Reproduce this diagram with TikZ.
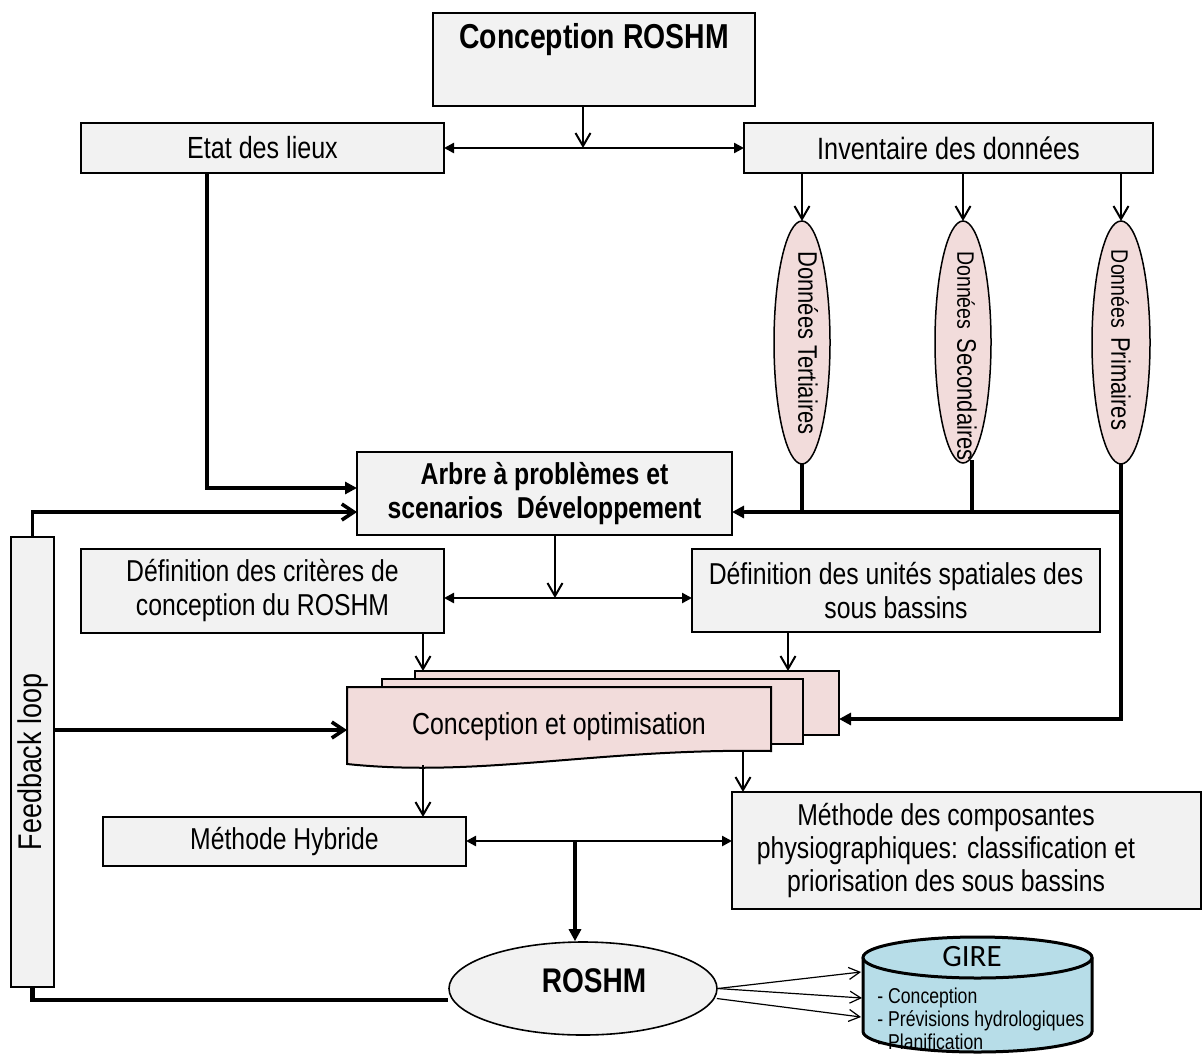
\documentclass[tikz,border=0pt]{standalone}
\usepackage{fontspec}
\setmainfont{Liberation Sans}[FakeStretch=0.82]
\newfontfamily\girefont{Carlito}
\usetikzlibrary{arrows.meta,calc,shapes.geometric}
\definecolor{boxgray}{HTML}{F2F2F2}
\definecolor{pinkfill}{HTML}{F2DCDB}
\definecolor{gireblue}{HTML}{B7DDE8}
\newcommand{\fsz}[2]{\fontsize{#1}{#2}\selectfont}
\begin{document}
\begin{tikzpicture}[x=0.5pt,y=-0.5pt,
  box/.style={draw=black, line width=0.7pt, fill=boxgray, inner sep=0pt, outer sep=0pt},
  pinkbox/.style={draw=black, line width=1pt, fill=pinkfill, inner sep=0pt, outer sep=0pt},
  dataell/.style={ellipse, draw=black, line width=0.75pt, fill=pinkfill, inner sep=0pt, outer sep=0pt},
  txt/.style={inner sep=0pt, align=center, font=\fsz{15.1pt}{17pt}},
  thinarr/.style={line width=1pt, -{Straight Barb[length=6.5pt,width=7.5pt]}},
  gthin/.style={line width=0.6pt, -{Straight Barb[length=5.5pt,width=6pt]}},
  medboth/.style={line width=1.2pt, {Triangle[length=5pt,width=5pt]}-{Triangle[length=5pt,width=5pt]}},
  thickfill/.style={line width=1.8pt, -{Triangle[length=6pt,width=6pt]}},
  thickbarb/.style={line width=1.8pt, -{Straight Barb[length=6pt,width=8pt]}},
  thickline/.style={line width=1.8pt},
  bottomline/.style={line width=2.2pt}
]
\useasboundingbox (0,0) rectangle (1204,1055);
\fill[white] (0,0) rectangle (1204,1055);

% ---------- nodes ----------
\node[box, minimum width=161pt, minimum height=46.5pt] (conc) at (594,59.5) {};
\node[txt, font=\bfseries\fsz{17.3pt}{19pt}] (concT) at (594,40) {Conception ROSHM};

\node[box, txt, minimum width=181.5pt, minimum height=25pt, font=\fsz{15.3pt}{18pt}] (etat) at (262.5,148) {Etat des lieux};
\node[box, txt, minimum width=204.5pt, minimum height=25pt, font=\fsz{15.4pt}{18pt}] (inv) at (948.5,148) {Inventaire des données};

\node[dataell, minimum width=28pt, minimum height=121.5pt] (ter) at (802,342.5) {};
\node[rotate=-90, inner sep=0pt, font=\fsz{13.4pt}{15pt}] (terT) at (808,343) {Données Tertiaires};
\node[dataell, minimum width=28pt, minimum height=121pt] (sec) at (963,342) {};
\node[rotate=-90, inner sep=0pt] (secT) at (967,356) {{\fsz{11.9pt}{13pt}Données}\ \ {\fsz{13.4pt}{15pt}Secondaires}};
\node[dataell, minimum width=29pt, minimum height=121.5pt] (pri) at (1121,342.5) {};
\node[rotate=-90, inner sep=0pt] (priT) at (1121,340) {{\fsz{11.9pt}{13pt}Données}\ \ {\fsz{13.4pt}{15pt}Primaires}};

\node[box, txt, minimum width=187.5pt, minimum height=41.5pt, font=\bfseries\fsz{15.1pt}{17pt}] (arbre) at (544.5,493.5) {Arbre à problèmes et\\scenarios\ \ Développement};

\node[box, txt, minimum width=181.5pt, minimum height=42pt] (crit) at (262.5,591) {Définition des critères de\\conception du ROSHM};
\node[box, txt, minimum width=204pt, minimum height=41.5pt] (unit) at (896,590.5) {Définition des unités spatiales des\\sous bassins};

\node[pinkbox, minimum width=212pt, minimum height=32pt] (docA) at (627,703) {};
\node[pinkbox, minimum width=210.5pt, minimum height=32.5pt] (docB) at (592.5,711.5) {};
\filldraw[pinkbox] (347,687) -- (771,687) -- (771,751) .. controls (600,748) and (480,778) .. (347,764) -- cycle;
\node[txt, font=\fsz{15.2pt}{17pt}] (opt) at (559,727) {Conception et optimisation};

\node[box, txt, minimum width=181.5pt, minimum height=24.5pt] (hyb) at (284.5,841.5) {Méthode Hybride};
\node[box, minimum width=234.5pt, minimum height=58.5pt] (comp) at (966.5,850.5) {};
\node[txt, font=\fsz{15.1pt}{16.5pt}] (compT) at (946,851) {Méthode des composantes\\physiographiques: classification et\\priorisation des sous bassins};

\node[box, minimum width=21.5pt, minimum height=225pt] (fb) at (32.5,762) {};
\node[rotate=90, inner sep=0pt, font=\fsz{16.4pt}{18pt}] (fbT) at (33,762) {Feedback loop};

\node[ellipse, draw=black, line width=0.8pt, fill=boxgray, minimum width=134pt, minimum height=46.5pt, inner sep=0pt] (roshm) at (583,988.5) {};
\node[inner sep=0pt, font=\bfseries\fsz{17.1pt}{19pt}] (roshmT) at (594,981) {ROSHM};

% GIRE cylinder
\fill[gireblue] (863,957.5) -- (863,1031.5) arc[start angle=180,end angle=360,x radius=57.25pt,y radius=10.25pt] -- (1092,957.5) arc[start angle=0,end angle=180,x radius=57.25pt,y radius=10.25pt] -- cycle;
\draw[line width=1.5pt] (863,957.5) -- (863,1031.5) arc[start angle=180,end angle=360,x radius=57.25pt,y radius=10.25pt] -- (1092,957.5);
\draw[line width=1.5pt] (977.5,957.5) ellipse[x radius=57.25pt, y radius=10.25pt];
\node[inner sep=0pt, font=\girefont\fsz{15.5pt}{18pt}] (gire) at (972,957) {GIRE};
\node[anchor=west, align=left, inner sep=0pt, font=\fsz{10.75pt}{11.5pt}] (gireL) at (877,1019) {- Conception\\- Prévisions hydrologiques\\- Planification};

% ---------- coordinates ----------
\coordinate (yA) at (0,512);
\coordinate (yB) at (0,719);
\coordinate (yC) at (0,488);
\coordinate (yD) at (0,730);
\coordinate (yE) at (0,1000);
\coordinate (yF) at (0,598);
\coordinate (yG) at (0,841);
\coordinate (cs) at ($(conc.south)+(-11,0)$);
\coordinate (eS) at (207,173);
\coordinate (secB) at (972,460);
\coordinate (aS) at ($(arbre.south)+(10.5,0)$);
\coordinate (cS) at (423,633);
\coordinate (uS) at (788,632);
\coordinate (dS1) at (423,765);
\coordinate (dS2) at (743,752);
\coordinate (docCw) at (347,730);
\coordinate (hJ) at (575,841);
\coordinate (r3) at ($(roshm.east)+(-1,10)$);
\coordinate (g1) at (861,972);
\coordinate (g2) at (862,998);
\coordinate (g3) at (861,1017);

% ---------- connectors ----------
\draw[thinarr] (cs) -- (cs |- etat.east);
\draw[medboth] (etat.east) -- (inv.west);

\draw[thinarr] (inv.south -| ter.north) -- (ter.north);
\draw[thinarr] (inv.south -| sec.north) -- (sec.north);
\draw[thinarr] (inv.south -| pri.north) -- (pri.north);

\draw[thickline] (ter.south) -- (ter.south |- yA);
\draw[thickline] (secB) -- (secB |- yA);
\draw[thickfill] (pri.south) -- (pri.south |- yA) -- (arbre.east |- yA);
\draw[thickfill] (pri.south |- yA) -- (pri.south |- yB) -- (docA.east |- yB);

\draw[thickfill] (eS) -- (eS |- yC) -- (arbre.west |- yC);
\draw[thickbarb] (fb.north) -- (fb.north |- yA) -- (arbre.west |- yA);
\draw[thickbarb] (fb.east |- yD) -- (docCw);
\draw[bottomline] (fb.south) -- (fb.south |- yE) -- (roshm.west |- yE);

\draw[thinarr] (aS) -- (aS |- yF);
\draw[medboth] (crit.east |- yF) -- (unit.west |- yF);
\draw[thinarr] (cS) -- (cS |- docA.north);
\draw[thinarr] (uS) -- (uS |- docA.north);

\draw[thinarr] (dS1) -- (dS1 |- hyb.north);
\draw[thinarr] (dS2) -- (dS2 |- comp.north);
\draw[medboth] (hyb.east |- yG) -- (comp.west |- yG);
\draw[thickfill] (hJ) -- (hJ |- roshm.north);

\draw[gthin] (roshm.east) -- (g1);
\draw[gthin] (roshm.east) -- (g2);
\draw[gthin] (r3) -- (g3);
\end{tikzpicture}
\end{document}
